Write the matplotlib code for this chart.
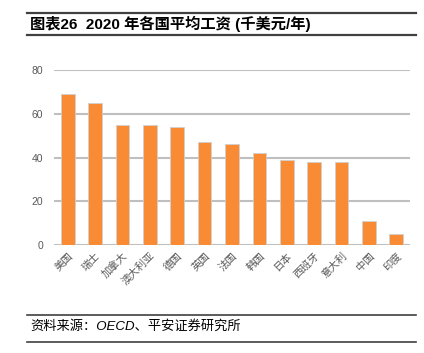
import matplotlib
matplotlib.use('Agg')
from matplotlib import pyplot as plt
from matplotlib.lines import Line2D

plt.rcParams['font.family'] = ['Liberation Sans', 'Noto Sans CJK SC', 'DejaVu Sans']

# data
countries = ['美国', '瑞士', '加拿大', '澳大利亚', '德国', '英国', '法国',
             '韩国', '日本', '西班牙', '意大利', '中国', '印度']
wages = [69, 65, 55, 55, 54, 47, 46, 42, 39, 38, 38, 11, 5]
yticks = [0, 20, 40, 60, 80]

title = '图表26  2020 年各国平均工资 (千美元/年)'
source = '资料来源：OECD、平安证券研究所'

fig = plt.figure(figsize=(4.24, 3.53), dpi=100)
ax = fig.add_axes([54 / 424, 1 - 245 / 353, 356 / 424, 175 / 353])

x = range(len(countries))
ax.bar(x, wages, width=0.5, color='#F98B35', edgecolor='#d0d0d0', linewidth=0.6, zorder=3)

ax.set_xlim(-0.5, len(countries) - 0.5)
ax.set_ylim(0, 80)
ax.set_yticks(yticks)
ax.yaxis.grid(True, color='#bfbfbf', linewidth=1.5, zorder=0)
ax.set_axisbelow(True)
for s in ax.spines.values():
    s.set_visible(False)
ax.tick_params(axis='both', length=0, colors='#595959', labelsize=7.5)
ax.tick_params(axis='y', pad=8)
ax.tick_params(axis='x', pad=4)
ax.set_xticks(list(x))
ax.set_xticklabels(countries, rotation=45, ha='right', rotation_mode='anchor')

# header and footer lines
def hline(ypix, lw=1.6):
    fig.add_artist(Line2D([27 / 424, 416 / 424], [1 - ypix / 353] * 2,
                          color='#404040', linewidth=lw, transform=fig.transFigure))

hline(13)
hline(35)
hline(315, 1.2)
hline(342, 1.2)

fig.text(30 / 424, 1 - 24 / 353, title, fontsize=11, fontweight='bold',
         va='center', ha='left', color='black')
fig.text(30 / 424, 1 - 326 / 353, source, fontsize=9.5, style='italic',
         va='center', ha='left', color='black')

fig.savefig('out.png', dpi=100)
